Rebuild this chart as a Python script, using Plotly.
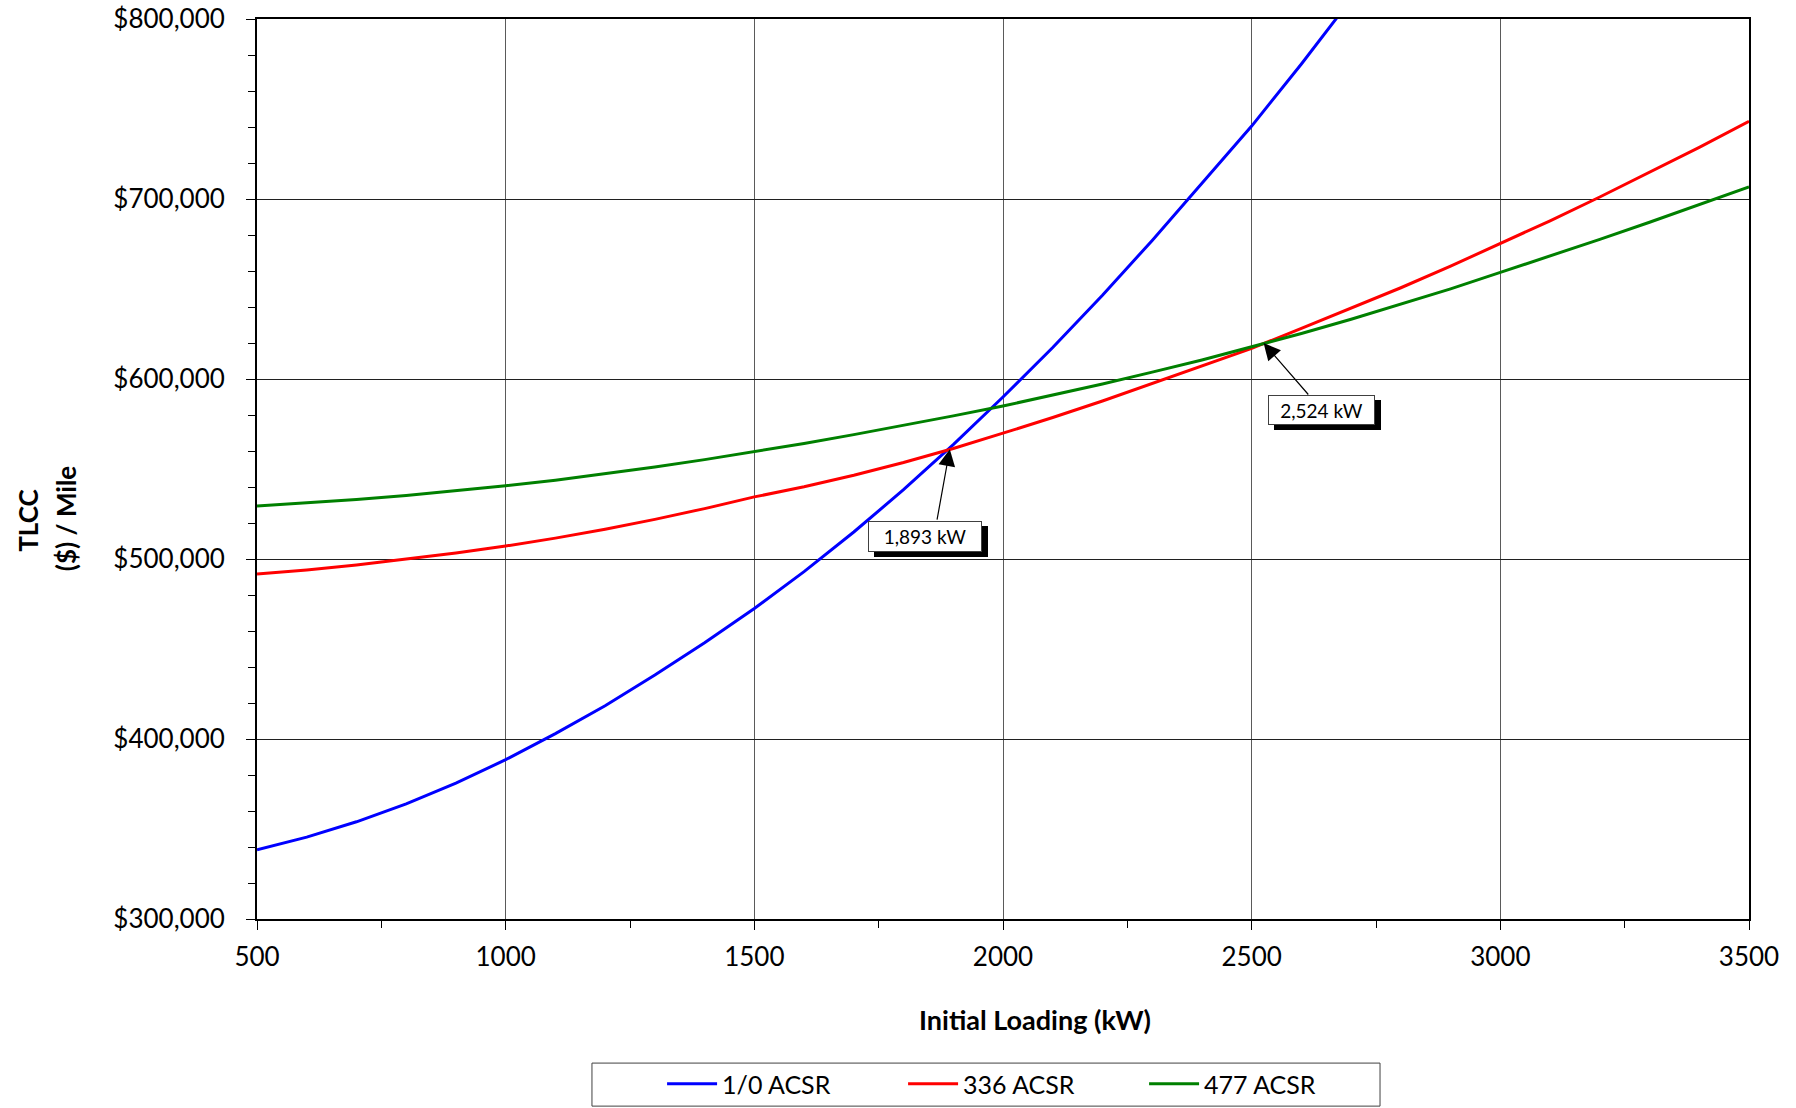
import plotly.graph_objects as go

# ---------------- data ----------------
loading_kw = [500, 600, 700, 800, 900, 1000, 1100, 1200, 1300, 1400, 1500,
              1600, 1700, 1800, 1900, 2000, 2100, 2200, 2300, 2400, 2500,
              2600, 2700, 2800, 2900, 3000, 3100, 3200, 3300, 3400, 3500]

# 1/0 ACSR (runs off the top of the chart near 2,670 kW)
acsr_10_kw = loading_kw[:23]
acsr_10 = [338500, 345500, 354000, 364000, 375500, 388500, 403000, 418500,
           435500, 453500, 472500, 493000, 515000, 538500, 563500, 590000,
           617500, 646500, 677000, 708500, 740500, 775000, 811000]

acsr_336 = [491600, 493900, 496700, 499800, 503300, 507200, 511600, 516500,
            522000, 528000, 534500, 540100, 546500, 553600, 561400, 569900,
            578600, 587800, 597400, 607300, 617000, 628100, 639200, 650700,
            662700, 675100, 687900, 701100, 714700, 728700, 743200]

acsr_477 = [529400, 531000, 533000, 535300, 537800, 540700, 543800, 547300,
            551100, 555200, 559600, 564200, 569100, 574200, 579500, 585000,
            590900, 597200, 603800, 610600, 617900, 625300, 633200, 641500,
            650100, 659200, 668300, 677600, 687100, 696800, 706700]

series_names = ["1/0 ACSR", "336 ACSR", "477 ACSR"]
series_colors = ["#0000FF", "#FF0000", "#008000"]

# crossover annotations
cross_kw = [1893, 2524]
cross_val = [561000, 620000]
cross_labels = ["1,893 kW", "2,524 kW"]

x_ticks = [500, 1000, 1500, 2000, 2500, 3000, 3500]

FONT = "Lato"

fig = go.Figure()
fig.add_trace(go.Scatter(x=acsr_10_kw, y=acsr_10, mode="lines", name=series_names[0],
                         line=dict(color=series_colors[0], width=3)))
fig.add_trace(go.Scatter(x=loading_kw, y=acsr_336, mode="lines", name=series_names[1],
                         line=dict(color=series_colors[1], width=3)))
fig.add_trace(go.Scatter(x=loading_kw, y=acsr_477, mode="lines", name=series_names[2],
                         line=dict(color=series_colors[2], width=3)))

# annotation geometry (pixel offsets from crossover point)
box_shift = [(-25, -87), (58, -67)]
box_size = [(110, 27), (103, 26)]
arrow_tail = [(-13, 72), (46, 53)]

for i in range(2):
    bx, by = box_shift[i]
    w, h = box_size[i]
    # shadow
    fig.add_annotation(x=cross_kw[i], y=cross_val[i], xref="x", yref="y",
                       text="", showarrow=False, xshift=bx + 6, yshift=by - 5,
                       width=w, height=h, bgcolor="black", bordercolor="black",
                       borderwidth=1, borderpad=1)
    # box
    fig.add_annotation(x=cross_kw[i], y=cross_val[i], xref="x", yref="y",
                       text=cross_labels[i], showarrow=False, xshift=bx, yshift=by,
                       width=w, height=h, bgcolor="white", bordercolor="#404040",
                       borderwidth=1, borderpad=1,
                       font=dict(family=FONT, size=19, color="black"))
    # arrow
    ax, ay = arrow_tail[i]
    fig.add_annotation(x=cross_kw[i], y=cross_val[i], xref="x", yref="y",
                       text="", showarrow=True, ax=ax, ay=ay, axref="pixel", ayref="pixel",
                       arrowhead=2, arrowsize=2.8, arrowwidth=1.2, arrowcolor="black",
                       standoff=0)

# axis titles
fig.add_annotation(x=0.5214, y=-0.1112, xref="paper", yref="paper",
                   text="<b>Initial Loading (kW)</b>", showarrow=False,
                   xanchor="center", yanchor="middle",
                   font=dict(family=FONT, size=27, color="black"))
fig.add_annotation(x=-0.1535, y=0.4425, xref="paper", yref="paper",
                   text="<b>TLCC</b>", showarrow=False, textangle=-90,
                   xanchor="center", yanchor="middle",
                   font=dict(family=FONT, size=26, color="black"))
fig.add_annotation(x=-0.1284, y=0.4458, xref="paper", yref="paper",
                   text="<b>($) / Mile</b>", showarrow=False, textangle=-90,
                   xanchor="center", yanchor="middle",
                   font=dict(family=FONT, size=26, color="black"))

# legend frame
fig.add_shape(type="rect", xref="paper", yref="paper",
              x0=0.2245, x1=0.7527, y0=-0.2079, y1=-0.1601,
              line=dict(color="#404040", width=1), fillcolor="white", layer="below")

fig.update_layout(
    width=1796, height=1108,
    margin=dict(l=257, r=47, t=19, b=189, autoexpand=False),
    paper_bgcolor="white", plot_bgcolor="white",
    font=dict(family=FONT, size=26, color="black"),
    showlegend=True,
    legend=dict(orientation="h", x=0.2715, xanchor="left", y=-0.1834, yanchor="middle",
                borderwidth=0, bgcolor="rgba(0,0,0,0)",
                font=dict(family=FONT, size=25, color="black"),
                itemwidth=50,
                entrywidth=176, entrywidthmode="pixels"),
    xaxis=dict(range=[500, 3500], tickvals=x_ticks, ticks="outside", ticklen=9,
               tickwidth=1, tickcolor="black", ticklabelstandoff=5,
               ticklabeloverflow="allow",
               showline=True, linecolor="black", linewidth=2, mirror=True,
               showgrid=True, gridcolor="#5a5a5a", gridwidth=1, zeroline=False,
               minor=dict(dtick=250, tick0=500, ticks="outside", ticklen=7,
                          tickcolor="black", showgrid=False),
               tickfont=dict(family=FONT, size=26)),
    yaxis=dict(range=[300000, 800000], dtick=100000, tick0=300000,
               tickprefix="$", tickformat=",d", ticks="outside", ticklen=9,
               tickwidth=1, tickcolor="black", ticklabelstandoff=16,
               ticklabeloverflow="allow",
               showline=True, linecolor="black", linewidth=2, mirror=True,
               showgrid=True, gridcolor="#202020", gridwidth=1, zeroline=False,
               minor=dict(dtick=20000, tick0=300000, ticks="outside", ticklen=7,
                          tickcolor="black", showgrid=False),
               tickfont=dict(family=FONT, size=26)),
)

# remove the default page margin so the figure sits at the window's top-left corner
fig.write_html("out.html",
               config={"displayModeBar": False},
               post_script="document.body.style.margin='0px';document.body.style.overflow='hidden';")
